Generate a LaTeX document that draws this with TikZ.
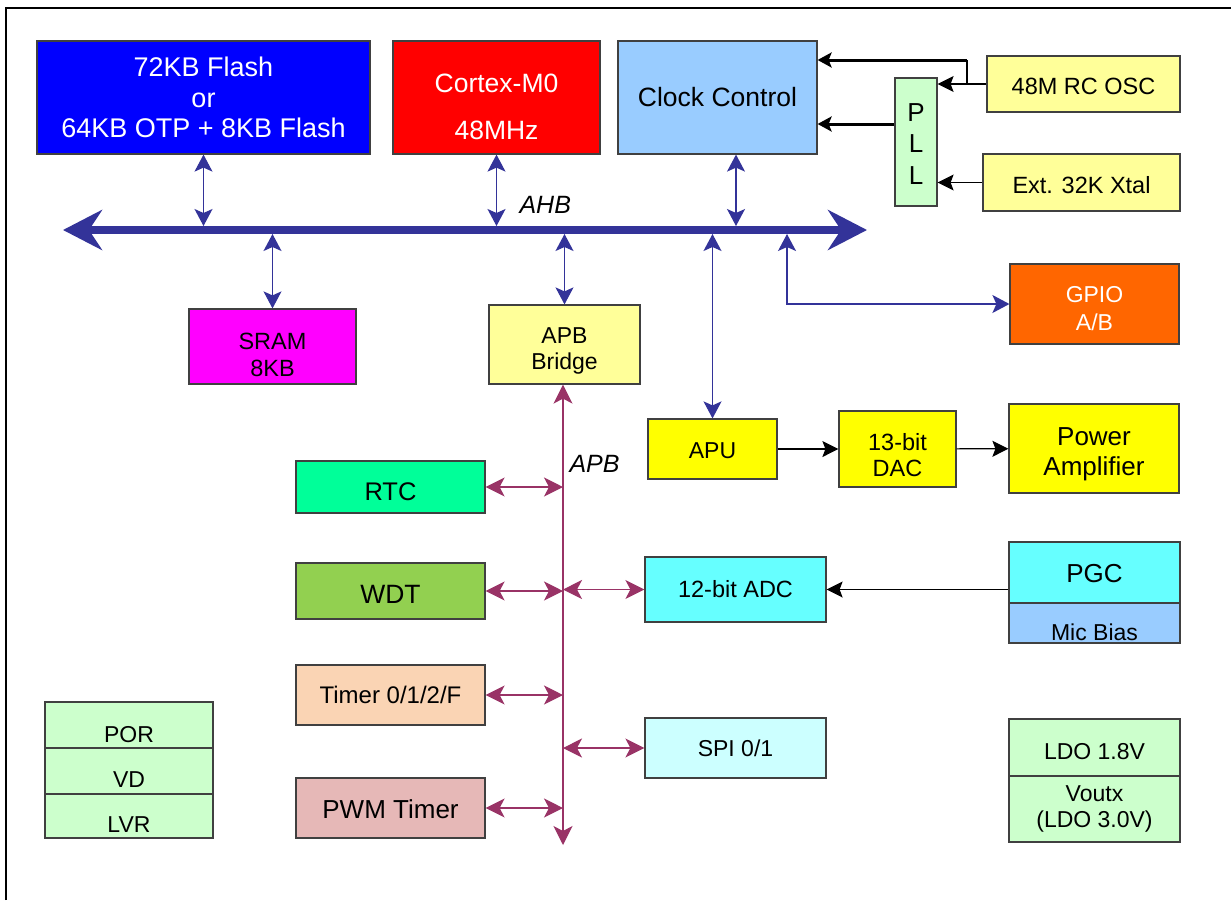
\documentclass[tikz,border=0pt]{standalone}
\usepackage{fontspec}
\setmainfont{Liberation Sans}
\usetikzlibrary{arrows.meta}
\definecolor{ahbblue}{RGB}{51,51,153}
\definecolor{apbred}{RGB}{153,51,102}
\definecolor{flashblue}{RGB}{0,0,255}
\definecolor{cpured}{RGB}{255,0,0}
\definecolor{clkblue}{RGB}{153,204,255}
\definecolor{palegreen}{RGB}{204,255,204}
\definecolor{paleyellow}{RGB}{255,255,153}
\definecolor{srammag}{RGB}{255,0,255}
\definecolor{gpioorange}{RGB}{255,102,0}
\definecolor{apuyellow}{RGB}{255,255,0}
\definecolor{rtcgreen}{RGB}{0,255,153}
\definecolor{wdtgreen}{RGB}{146,208,80}
\definecolor{adccyan}{RGB}{102,255,255}
\definecolor{timerpeach}{RGB}{250,212,180}
\definecolor{spicyan}{RGB}{204,255,255}
\definecolor{pwmpink}{RGB}{230,184,183}
\newcommand{\fsz}[2]{\fontsize{#1}{#2}\selectfont}
\newcommand{\dn}[2]{\raisebox{-#1}[\height][\depth]{#2}} % lower a text line inside its box
\tikzset{
    blk/.style={draw=black!75, line width=1.2pt, align=center, inner sep=0pt, font=\fsz{23}{27}}, % block
    ahb link/.style={ahbblue, line width=1.2pt, {Stealth[length=17pt,width=18pt,inset=4pt]}-{Stealth[length=17pt,width=18pt,inset=4pt]}},
    apb link/.style={apbred, line width=1.2pt, {Stealth[length=19pt,width=19pt,inset=5pt]}-{Stealth[length=19pt,width=19pt,inset=5pt]}},
    sig/.style={black, line width=1.2pt, -{Stealth[length=16pt,width=16pt,inset=3pt]}},
    clk sig/.style={black, line width=3pt, -{Stealth[length=14pt,width=15pt,inset=3pt]}}
}

\begin{document}
\begin{tikzpicture}[x=1pt, y=-1pt]
    \useasboundingbox (0,0) rectangle (1231,900);
    \fill[white] (0,0) rectangle (1231,900);
    \draw[line width=2.5pt] (6,900) -- (6,8) -- (1231,8);

    % AHB side
    \node[blk, fill=flashblue, text=white, minimum width=333pt, minimum height=113pt, font=\fsz{27}{30.5}] (flash) at (203.5,97.5) {72KB Flash\\or\\64KB OTP + 8KB Flash};
    \node[blk, fill=cpured, text=white, minimum width=207pt, minimum height=113pt, font=\fsz{26.5}{30}] (cpu) at (496.5,97.5) {\dn{9pt}{Cortex-M0}\\[17pt]\dn{9pt}{48MHz}};
    \node[blk, fill=clkblue, minimum width=199pt, minimum height=113pt, font=\fsz{26.5}{30}] (clk) at (717.5,97.5) {Clock Control};
    \node[blk, fill=palegreen, minimum width=42pt, minimum height=128pt, font=\fsz{26}{31.5}] (pll) at (916,142) {\dn{2pt}{P}\\\dn{2pt}{L}\\\dn{2pt}{L}};
    \node[blk, fill=paleyellow, minimum width=193pt, minimum height=56pt, font=\fsz{23.5}{27}] (osc) at (1083.5,84) {\dn{2.5pt}{48M RC OSC}};
    \node[blk, fill=paleyellow, minimum width=197pt, minimum height=57pt, font=\fsz{23.5}{27}] (xtal) at (1081.5,182.5) {\dn{3pt}{Ext. 32K Xtal}};

    \node[blk, fill=srammag, minimum width=167pt, minimum height=75pt, font=\fsz{23.5}{27}] (sram) at (272.5,346.5) {\dn{8pt}{SRAM}\\\dn{8pt}{8KB}};
    \node[blk, fill=paleyellow, minimum width=151pt, minimum height=79pt, font=\fsz{23}{26}] (bridge) at (564.5,344.5) {\dn{6.5pt}{APB}\\\dn{6.5pt}{Bridge}};
    \node[blk, fill=gpioorange, text=white, minimum width=169pt, minimum height=80pt, font=\fsz{23}{27.5}] (gpio) at (1094.5,304) {\dn{4.5pt}{GPIO}\\\dn{4.5pt}{A/B}};
    \node[blk, fill=apuyellow, minimum width=129pt, minimum height=60pt] (apu) at (712.5,449) {\dn{2pt}{APU}};
    \node[blk, fill=apuyellow, minimum width=117pt, minimum height=76pt, font=\fsz{23.5}{26}] (dac) at (897.5,449) {\dn{6pt}{13-bit}\\\dn{6pt}{DAC}};
    \node[blk, fill=apuyellow, minimum width=170pt, minimum height=89pt, font=\fsz{26}{30}] (amp) at (1094,448.5) {\dn{6pt}{Power}\\\dn{6pt}{Amplifier}};

    % APB side
    \node[blk, fill=rtcgreen, minimum width=189pt, minimum height=52pt, font=\fsz{25.5}{30}] (rtc) at (390.5,487) {\dn{5pt}{RTC}};
    \node[blk, fill=wdtgreen, minimum width=189pt, minimum height=56pt, font=\fsz{26.5}{30}] (wdt) at (390.5,591) {\dn{3.5pt}{WDT}};
    \node[blk, fill=timerpeach, minimum width=189pt, minimum height=60pt, font=\fsz{24}{28}] (timer) at (390.5,695) {Timer 0/1/2/F};
    \node[blk, fill=pwmpink, minimum width=189pt, minimum height=60pt, font=\fsz{26}{30}] (pwm) at (390.5,808) {\dn{1pt}{PWM Timer}};
    \node[blk, fill=adccyan, minimum width=181pt, minimum height=65pt, font=\fsz{23.5}{27}] (adc) at (735.5,589.5) {12-bit ADC};
    \node[blk, fill=spicyan, minimum width=181pt, minimum height=60pt] (spi) at (735.5,748) {SPI 0/1};

    \node[blk, fill=adccyan, minimum width=171pt, minimum height=61pt, font=\fsz{26}{30}] (pgc) at (1094.5,572.5) {\dn{1pt}{PGC}};
    \node[blk, fill=clkblue, minimum width=171pt, minimum height=40pt] (mic) at (1094.5,623) {\dn{9.5pt}{Mic Bias}};

    \node[blk, fill=palegreen, minimum width=168pt, minimum height=46pt] (por) at (129,725) {\dn{9.5pt}{POR}};
    \node[blk, fill=palegreen, minimum width=168pt, minimum height=46pt] (vd) at (129,771) {\dn{9pt}{VD}};
    \node[blk, fill=palegreen, minimum width=168pt, minimum height=44pt] (lvr) at (129,816) {\dn{9pt}{LVR}};
    \node[blk, fill=palegreen, minimum width=171pt, minimum height=57pt] (ldo) at (1094.5,747.5) {\dn{4pt}{LDO 1.8V}};
    \node[blk, fill=palegreen, minimum width=171pt, minimum height=66pt, font=\fsz{23}{26}] (voutx) at (1094.5,809) {Voutx\\(LDO 3.0V)};

    % AHB bus
    \coordinate (ahbL) at (63,230);
    \coordinate (ahbR) at (867,230);
    \coordinate (clktap) at (736,230);
    \coordinate (gpiotap) at (787,230);
    \draw[ahbblue, line width=7.5pt, {Stealth[length=39pt,width=40pt,inset=13pt]}-{Stealth[length=39pt,width=40pt,inset=13pt]}] (ahbL) -- (ahbR);
    \node[font=\fsz{25}{28}\itshape, anchor=south west] (ahblbl) at (516,217) {AHB};

    \draw[ahb link] (flash.south) -- ([yshift=4pt]flash.south |- ahbL);
    \draw[ahb link] (cpu.south) -- ([yshift=4pt]cpu.south |- ahbL);
    \draw[ahb link] (clktap |- clk.south) -- ([yshift=4pt]clktap);
    \draw[ahb link] ([yshift=-4pt]sram.north |- ahbL) -- (sram.north);
    \draw[ahb link] ([yshift=-4pt]bridge.north |- ahbL) -- (bridge.north);
    \draw[ahb link] ([yshift=-4pt]apu.north |- ahbL) -- (apu.north);
    \draw[ahb link] ([yshift=-4pt]gpiotap) |- (gpio.west);

    % APB bus
    \coordinate (apbend) at (563,845);
    \draw[apb link] (bridge.south -| apbend) -- (apbend);
    \node[font=\fsz{25}{28}\itshape, anchor=south west] (apblbl) at (566,476) {APB};
    \foreach \blk in {rtc, wdt, timer, pwm} {
        \draw[apb link] (\blk.east) -- (\blk.east -| apbend);
    }
    \draw[apb link] (adc.west -| apbend) -- (adc.west);
    \draw[apb link] (spi.west -| apbend) -- (spi.west);

    % clocks and audio path
    \coordinate (oscbr) at (967,60);
    \draw[sig] (osc.west) -- (osc.west -| pll.east);
    \draw[black, line width=1.2pt] (oscbr |- osc.west) -- (oscbr);
    \draw[clk sig] (oscbr) -- (oscbr -| clk.east);
    \draw[clk sig] ([yshift=18pt]pll.west) -- ([yshift=18pt]pll.west -| clk.east);
    \draw[sig] (xtal.west) -- (xtal.west -| pll.east);
    \draw[sig] (apu) -- (dac);
    \draw[sig] (dac) -- (amp);
    \draw[sig] (adc.east -| pgc.west) -- (adc.east);
\end{tikzpicture}
\end{document}
